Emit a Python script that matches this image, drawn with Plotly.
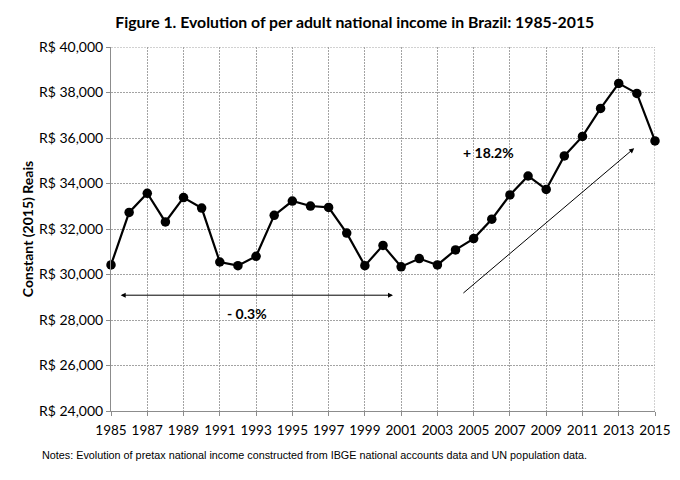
import plotly.graph_objects as go

years = list(range(1985, 2016))
income = [30420, 32730, 33570, 32310, 33380, 32920, 30550, 30390, 30800, 32600,
          33230, 33010, 32950, 31820, 30390, 31280, 30340, 30700, 30420, 31080,
          31580, 32430, 33500, 34330, 33740, 35210, 36070, 37300, 38400, 37960,
          35870]

y_ticks = list(range(24000, 40001, 2000))
x_ticks = list(range(1985, 2016, 2))

title_text = "Figure 1. Evolution of per adult national income in Brazil: 1985-2015"
y_title = "Constant (2015) Reais"
note_text = "Notes: Evolution of pretax national income constructed from IBGE national accounts data and UN population data."

# annotations (data coordinates)
arrow1 = dict(x0=1985.45, x1=2000.55, y=29090, label="- 0.3%", lx=1992.5, ly=28300)
arrow2 = dict(x0=2004.35, y0=29130, x1=2013.85, y1=35550, label="+ 18.2%", lx=2005.8, ly=35350)

GRID = "#a3a3a3"
AXIS = "#8c8c8c"
font_main = "Lato, 'Open Sans', sans-serif"

fig = go.Figure()
fig.add_trace(go.Scatter(
    x=years, y=income, mode="lines+markers",
    line=dict(color="black", width=2.2),
    marker=dict(color="black", size=9.5),
    showlegend=False, hoverinfo="skip", cliponaxis=False))

fig.update_layout(
    width=680, height=480,
    margin=dict(l=103, r=33, t=39, b=77),
    paper_bgcolor="white", plot_bgcolor="white",
    title=dict(text="<b>" + title_text + "</b>", x=0.51, xanchor="center",
               y=0.969, yanchor="middle",
               font=dict(family=font_main, size=15.8, color="black")),
    xaxis=dict(range=[1985, 2015], tickvals=x_ticks, ticktext=[str(v) for v in x_ticks],
               showgrid=True, gridcolor=GRID, griddash="2px,1px", gridwidth=1,
               showline=True, linecolor=AXIS, linewidth=1,
               ticks="outside", ticklen=4, tickcolor=AXIS, ticklabelstandoff=3,
               tickfont=dict(family=font_main, size=13.5, color="black"),
               zeroline=False),
    yaxis=dict(range=[24000, 40000], tickvals=y_ticks,
               ticktext=["R$ {:,}".format(v) for v in y_ticks],
               showgrid=True, gridcolor=GRID, griddash="2px,1px", gridwidth=1,
               showline=True, linecolor=AXIS, linewidth=1,
               ticks="outside", ticklen=4, tickcolor=AXIS,
               tickfont=dict(family=font_main, size=14, color="black"),
               title=dict(text="<b>" + y_title + "</b>", standoff=2,
                          font=dict(family=font_main, size=14, color="black")),
               zeroline=False),
)

# right/top border gridlines
fig.add_shape(type="line", xref="x", yref="y", x0=2015, x1=2015, y0=24000, y1=40000,
              line=dict(color=GRID, width=1, dash="2px,1px"), layer="below")
fig.add_shape(type="line", xref="x", yref="y", x0=1985, x1=2015, y0=40000, y1=40000,
              line=dict(color=GRID, width=1, dash="2px,1px"), layer="below")

# double-headed arrow
fig.add_annotation(x=arrow1["x1"], y=arrow1["y"], ax=arrow1["x0"], ay=arrow1["y"],
                   xref="x", yref="y", axref="x", ayref="y", text="",
                   showarrow=True, arrowhead=2, arrowside="end+start", arrowsize=1,
                   arrowwidth=1, arrowcolor="black")
fig.add_annotation(x=arrow1["lx"], y=arrow1["ly"], xref="x", yref="y",
                   text="<b>" + arrow1["label"] + "</b>", showarrow=False,
                   font=dict(family=font_main, size=14, color="black"))

fig.add_annotation(x=arrow2["x1"], y=arrow2["y1"], ax=arrow2["x0"], ay=arrow2["y0"],
                   xref="x", yref="y", axref="x", ayref="y", text="",
                   showarrow=True, arrowhead=2, arrowsize=1,
                   arrowwidth=1, arrowcolor="black")
fig.add_annotation(x=arrow2["lx"], y=arrow2["ly"], xref="x", yref="y",
                   text="<b>" + arrow2["label"] + "</b>", showarrow=False,
                   font=dict(family=font_main, size=14, color="black"))

fig.add_annotation(x=-0.1305, y=-0.121, xref="paper", yref="paper", text=note_text,
                   showarrow=False, xanchor="left", yanchor="middle",
                   font=dict(family="'Liberation Sans', Arial, sans-serif", size=10.8, color="black"))

fig.write_html("out.html")
